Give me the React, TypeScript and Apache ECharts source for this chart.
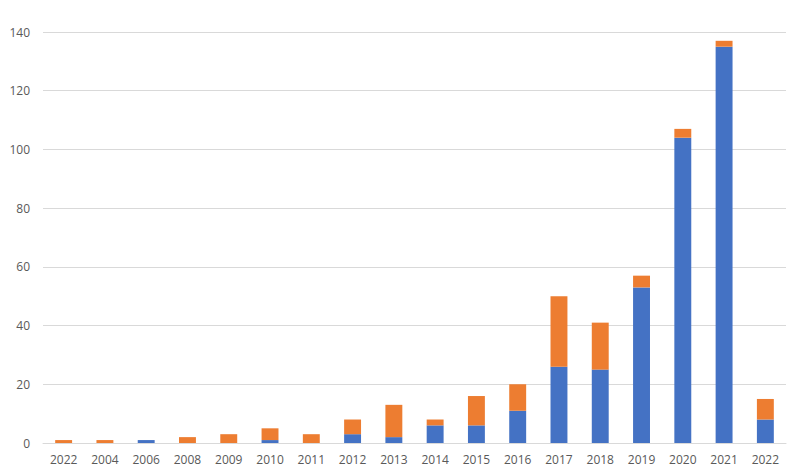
import React, { useEffect, useRef } from "react";
import * as echarts from "echarts";

const categories = ["2022", "2004", "2006", "2008", "2009", "2010", "2011", "2012", "2013", "2014", "2015", "2016", "2017", "2018", "2019", "2020", "2021", "2022"];
const blueValues = [0, 0, 1, 0, 0, 1, 0, 3, 2, 6, 6, 11, 26, 25, 53, 104, 135, 8];
const orangeValues = [1, 1, 0, 2, 3, 4, 3, 5, 11, 2, 10, 9, 24, 16, 4, 3, 2, 7];
const yTicks = { min: 0, max: 140, interval: 20 };

export default function App() {
  const ref = useRef<HTMLDivElement>(null);
  useEffect(() => {
    if (!ref.current) return;
    const chart = echarts.init(ref.current, null, { renderer: "svg" });
    const font = "'Open Sans', 'Noto Sans', sans-serif";
    chart.setOption({
      animation: false,
      textStyle: { fontFamily: font },
      grid: { left: 43, right: 14, top: 32, bottom: 31, containLabel: false },
      xAxis: {
        type: "category",
        data: categories.map((c, i) => ({ value: c + (i === 0 ? "" : ""), textStyle: {} })),
        axisLine: { show: true, lineStyle: { color: "#D9D9D9", width: 1 } },
        axisTick: { show: false },
        axisLabel: { color: "#595959", fontSize: 12, fontFamily: font, margin: 10, interval: 0 },
      },
      yAxis: {
        type: "value",
        min: yTicks.min,
        max: yTicks.max,
        interval: yTicks.interval,
        axisLine: { show: false },
        axisTick: { show: false },
        axisLabel: { color: "#595959", fontSize: 12, fontFamily: font, margin: 13 },
        splitLine: { lineStyle: { color: "#D9D9D9", width: 1 } },
      },
      series: [
        {
          type: "bar",
          stack: "total",
          data: blueValues,
          barWidth: "41%",
          itemStyle: { color: "#4472C4" },
        },
        {
          type: "bar",
          stack: "total",
          data: orangeValues,
          barWidth: "41%",
          itemStyle: { color: "#ED7D31" },
        },
      ],
    });
    return () => chart.dispose();
  }, []);
  return <div ref={ref} style={{ width: 800, height: 474, position: "absolute", left: 0, top: 0, background: "#fff" }} />;
}
